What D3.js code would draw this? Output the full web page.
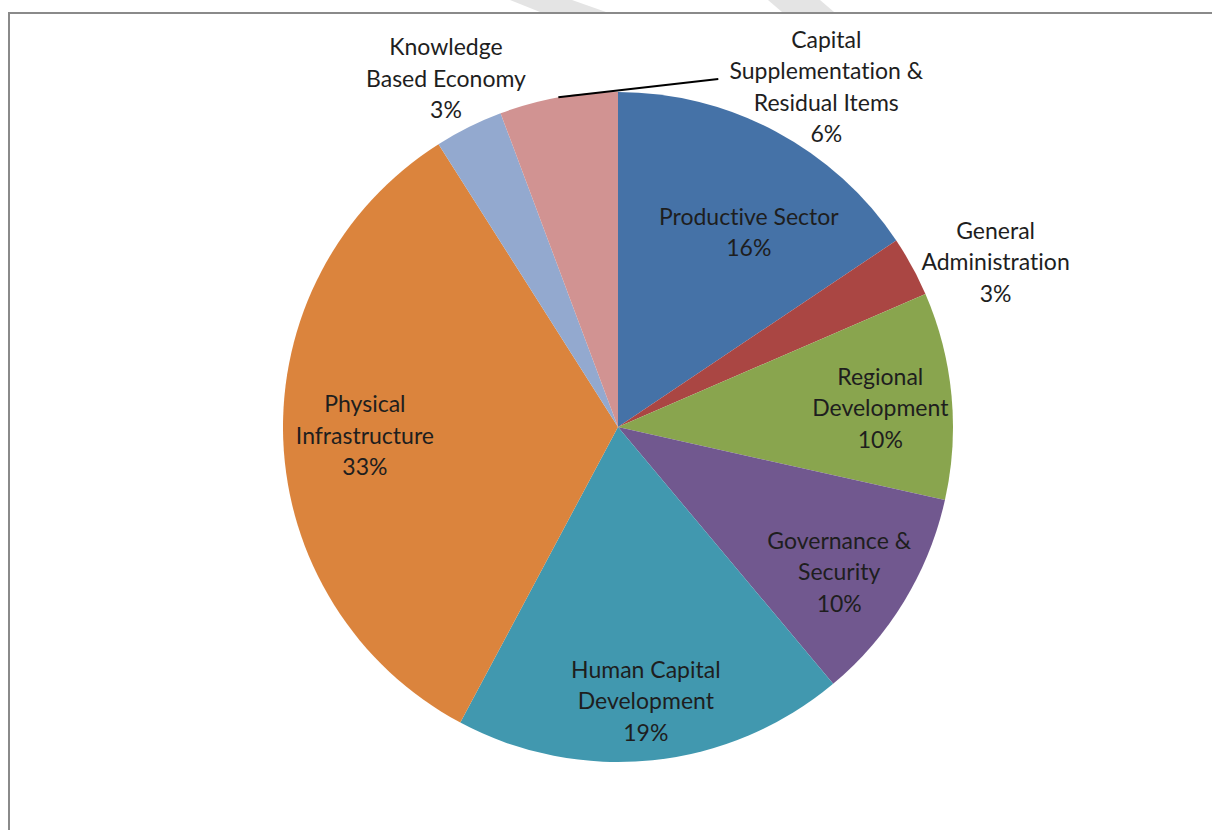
<!DOCTYPE html>
<html lang="en">
<head>
  <meta charset="UTF-8" />
  <title>Development Allocation Pie</title>
  <script src="https://cdn.jsdelivr.net/npm/d3@7/dist/d3.min.js"></script>
  <style>
    html, body { margin: 0; padding: 0; background: #fff; }
    svg { display: block; }
    text { font-variant-ligatures: none; font-feature-settings: "liga" 0, "clig" 0; }
  </style>
</head>
<body>
  <svg width="1212" height="830"></svg>

  <script>
    // sectors, clockwise from 12 o'clock
    const categories = [
      'Productive Sector',
      'General Administration',
      'Regional Development',
      'Governance & Security',
      'Human Capital Development',
      'Physical Infrastructure',
      'Knowledge Based Economy',
      'Capital Supplementation & Residual Items',
    ];
    // shares (percent)
    const values = [15.6, 2.9, 10.0, 10.4, 18.9, 33.2, 3.3, 5.7];
    // how the label text breaks into lines
    const labelLines = [
      ['Productive Sector'],
      ['General', 'Administration'],
      ['Regional', 'Development'],
      ['Governance &', 'Security'],
      ['Human Capital', 'Development'],
      ['Physical', 'Infrastructure'],
      ['Knowledge', 'Based Economy'],
      ['Capital', 'Supplementation &', 'Residual Items'],
    ];
    const colors = ['#4572A7', '#AA4643', '#89A54E', '#71588F', '#4198AF', '#DB843D', '#93A9CF', '#D19392'];

    // label placement: angle (deg, clockwise from top) and radius as fraction of pie radius
    const labelPlace = [
      [33.9, 0.70], [66.4, 1.23], [85.9, 0.785], [123.3, 0.79],
      [174.2, 0.822], [268.0, 0.756], [333.7, 1.159], [31.5, 1.19],
    ];

    const svg = d3.select('svg');
    const cx = 618, cy = 427, R = 335;

    // faint watermark shapes at the very top
    const wm = svg.append('g').attr('fill', '#e4e4e4');
    wm.append('path').attr('d', 'M510,0 L572,0 L606,12 L540,12 Z');
    wm.append('path').attr('d', 'M768,0 L820,0 L834,12 L782,12 Z');

    // frame
    svg.append('path')
      .attr('d', 'M9,830 L9,13 L1212,13')
      .attr('fill', 'none')
      .attr('stroke', '#8a8a8a')
      .attr('stroke-width', 2);

    const total = d3.sum(values);
    const pie = d3.pie().sort(null).value((d) => d)(values);
    const arc = d3.arc().innerRadius(0).outerRadius(R);

    const g = svg.append('g').attr('transform', `translate(${cx},${cy})`);

    g.selectAll('path.slice')
      .data(pie)
      .enter()
      .append('path')
      .attr('class', 'slice')
      .attr('d', arc)
      .attr('fill', (d, i) => colors[i]);

    const polar = (deg, r) => {
      const a = (deg * Math.PI) / 180;
      return [r * Math.sin(a), -r * Math.cos(a)];
    };

    // leader line for the Capital Supplementation label
    const capIdx = 7;
    const capMid = ((pie[capIdx].startAngle + pie[capIdx].endAngle) / 2) * 180 / Math.PI;
    const p0 = polar(capMid, R);
    const lp = polar(labelPlace[capIdx][0], labelPlace[capIdx][1] * R);
    g.append('line')
      .attr('x1', p0[0]).attr('y1', p0[1])
      .attr('x2', lp[0] - 108).attr('y2', lp[1] - 8)
      .attr('stroke', '#000')
      .attr('stroke-width', 2);

    const lineH = 31.5;
    g.selectAll('text.lbl')
      .data(pie)
      .enter()
      .append('text')
      .attr('class', 'lbl')
      .attr('text-anchor', 'middle')
      .style('font-family', 'Lato, "Open Sans", sans-serif')
      .style('font-size', '23px')
      .attr('fill', '#1e1e1e')
      .each(function (d, i) {
        const lines = labelLines[i].concat([Math.round((d.value / total) * 100) + '%']);
        const [x, y] = polar(labelPlace[i][0], labelPlace[i][1] * R);
        const top = y - ((lines.length - 1) * lineH) / 2;
        d3.select(this)
          .selectAll('tspan')
          .data(lines)
          .enter()
          .append('tspan')
          .attr('x', x)
          .attr('y', (t, j) => top + j * lineH)
          .attr('dy', '0.35em')
          .text((t) => t);
      });
  </script>
</body>
</html>
